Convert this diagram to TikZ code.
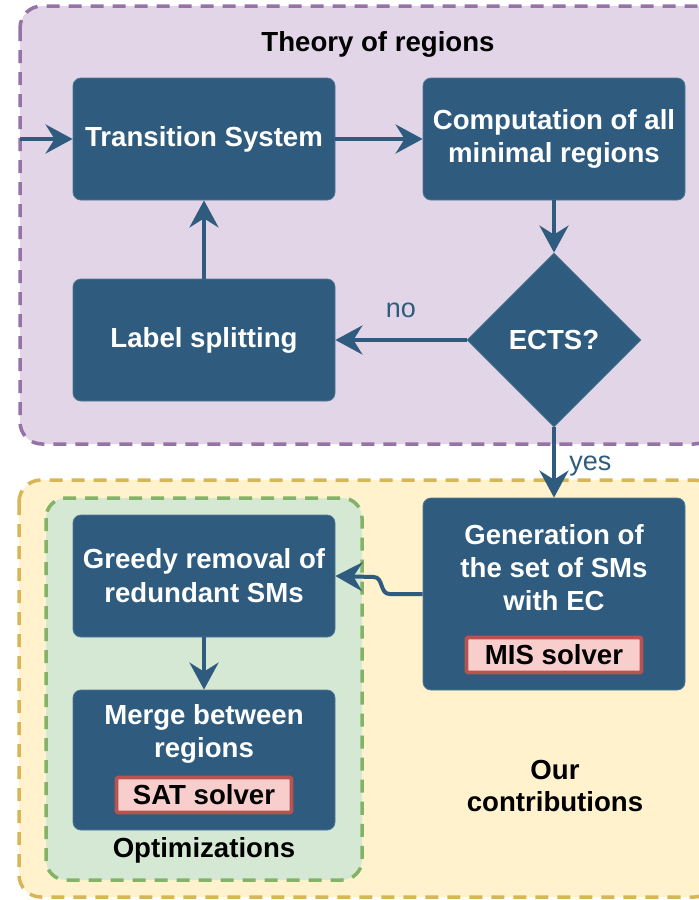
\documentclass[tikz,border=0pt]{standalone}
\usepackage{fontspec}
\setmainfont{Liberation Sans}
\usetikzlibrary{shapes.geometric,arrows.meta}
\definecolor{boxblue}{HTML}{2F5C7E}
\definecolor{boxedge}{HTML}{4F7796}
\definecolor{purfill}{HTML}{E1D5E7}
\definecolor{purline}{HTML}{9673A6}
\definecolor{yelfill}{HTML}{FFF2CC}
\definecolor{yelline}{HTML}{D6B656}
\definecolor{grnfill}{HTML}{D5E8D4}
\definecolor{grnline}{HTML}{82B366}
\definecolor{redfill}{HTML}{F8CECC}
\definecolor{redline}{HTML}{B85450}
\tikzset{
  txt/.style={font=\fontsize{27.6}{34}\selectfont\bfseries},
  stepbox/.style={txt, rectangle, rounded corners=8pt, fill=boxblue, draw=boxedge,
    line width=0.8pt, text=white, align=center, minimum width=262pt, inner sep=0pt},
  decision/.style={txt, diamond, aspect=1, fill=boxblue, draw=boxedge, line width=0.8pt,
    text=white, minimum width=174pt, minimum height=174pt, inner sep=0pt},
  solver/.style={txt, rectangle, rounded corners=2pt, fill=redfill, draw=redline,
    line width=3.8pt, text=black, minimum width=175pt, minimum height=35pt, inner sep=0pt},
  region/.style={rounded corners=22pt, line width=3.5pt, dash pattern=on 13pt off 9pt},
  flow/.style={draw=boxblue, line width=4pt,
    -{Stealth[length=27pt, width=29pt, inset=9pt]}},
  answer/.style={font=\fontsize{27}{33}\selectfont, text=boxblue},
  heading/.style={txt, text=black, align=center},
}
\begin{document}
\begin{tikzpicture}[x=1pt, y=-1pt]
  \useasboundingbox (0,0) rectangle (699,900);
  \clip (0,0) rectangle (699,900);

  % group backgrounds
  \draw[region, fill=purfill, draw=purline] (20,6) rectangle (716,444);
  \draw[region, fill=yelfill, draw=yelline] (19,480) rectangle (716,897);
  \draw[region, rounded corners=20pt, fill=grnfill, draw=grnline] (46,498) rectangle (362,880);

  % group titles
  \node[heading] (theory) at (378,44) {Theory of regions};
  \node[heading] (ours) at (555,786) {Our\\[-2pt]contributions};
  \node[heading] (optim) at (204,850) {Optimizations};

  % region-based synthesis loop
  \node[stepbox, minimum height=122pt] (ts) at (204,139) {\raisebox{-4pt}{Transition System}};
  \node[stepbox, minimum height=122pt] (comp) at (554,139) {Computation of all\\[-1pt]minimal regions};
  \node[stepbox, minimum height=122pt] (ls) at (204,340) {\raisebox{-4pt}{Label splitting}};
  \node[decision] (ects) at (554,340) {\raisebox{-3pt}{ECTS?}};

  % contributions
  \node[stepbox, minimum height=192pt] (gen) at (554,594) {};
  \node[txt, text=white, align=center] (gentxt) at (554,568) {Generation of\\[-1pt]the set of SMs\\[-1pt]with EC};
  \node[solver] (mis) at (554,655) {MIS solver};

  \node[stepbox, minimum height=122pt] (greedy) at (204,576) {Greedy removal of\\redundant SMs};
  \node[stepbox, minimum height=140pt] (merge) at (204,760) {};
  \node[txt, text=white, align=center] (mergetxt) at (204,734) {Merge between\\[-1pt]regions};
  \node[solver] (sat) at (204,795) {SAT solver};

  % entry point of the flow
  \coordinate (entry) at (20,139);

  % connectors
  \draw[flow] (entry) -- (ts.west);
  \draw[flow] (ts.east) -- (comp.west);
  \draw[flow] (comp.south) -- (ects.north);
  \draw[flow] (ects.west) -- node[answer, above=17pt, pos=0.5] (no) {no} (ls.east);
  \draw[flow] (ls.north) -- (ts.south);
  \draw[flow] (ects.south) -- node[answer, right=10pt, pos=0.55] (yes) {yes} (gen.north);
  \draw[flow] (gen.west) -- ++(-33,0)
    .. controls +(-10,0) and +(10,0) .. ++(-16,-17) -- (greedy.east);
  \draw[flow] (greedy.south) -- (merge.north);
\end{tikzpicture}
\end{document}
